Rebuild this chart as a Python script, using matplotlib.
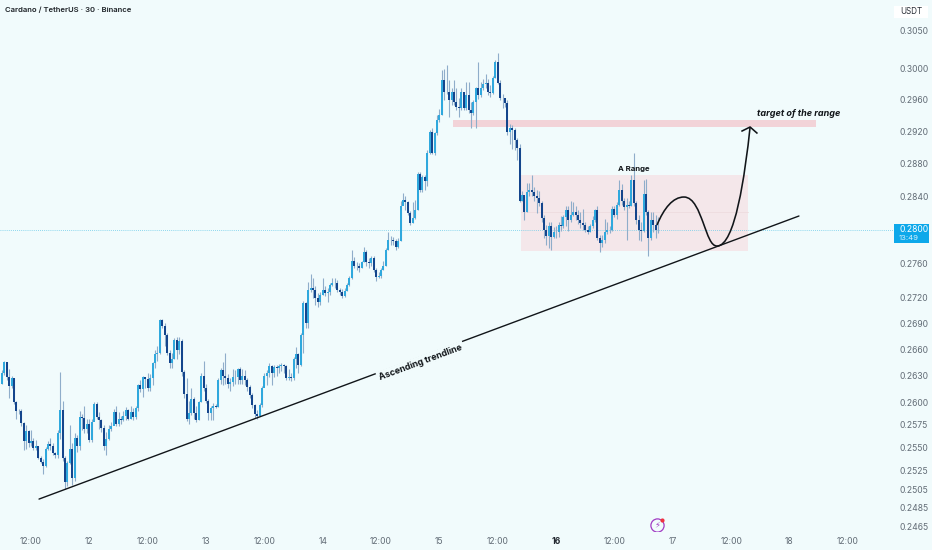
#coding=utf-8
import numpy as np
import matplotlib
matplotlib.use('Agg')
import matplotlib.pyplot as plt
from matplotlib.path import Path
from matplotlib.patches import PathPatch, Rectangle

plt.rcParams['font.family'] = ['Inter', 'DejaVu Sans']

first_open = 0.2621

# 30 min candles, bar 0 is 12:00 on the 11th
closes = [
    # 11th morning to 12th
    .2633, .2645, .2628, .2618, .2627, .2600, .2590, .2591, .2577, .2557,
    .2568, .2555, .2557, .2550, .2552, .2539, .2535, .2530, .2549, .2554,
    .2552, .2544, .2542, .2566, .2592, .2539, .2513, .2533, .2549, .2517,
    .2561, .2552, .2584, .2583, .2571, .2576, .2558, .2578, .2598, .2584,
    .2581, .2572, .2552, .2560, .2571, .2574, .2589, .2576, .2582, .2580,
    .2585, .2592, .2582,
    # first swing high and pullback
    .2589, .2584, .2594, .2619, .2615, .2628, .2626, .2616, .2627, .2644,
    .2655, .2656, .2693, .2687, .2676, .2656, .2644, .2649, .2671, .2659,
    .2669, .2634, .2609, .2582, .2588, .2604, .2588, .2580, .2600, .2630,
    .2616, .2602, .2588, .2594, .2596, .2595, .2625, .2636, .2630, .2627,
    .2621, .2623, .2628, .2629, .2638, .2625, .2630, .2625, .2617, .2608,
    .2597, .2587, .2585, .2597, .2616,
    # 13th night to 14th
    .2630, .2633, .2641, .2633, .2640, .2639, .2641, .2642, .2641, .2627,
    .2629, .2627, .2649, .2655, .2642, .2676, .2713, .2690, .2728, .2731,
    .2728, .2719, .2714, .2722, .2728, .2725, .2726, .2734, .2737, .2737,
    .2728, .2726, .2721, .2727, .2734, .2742, .2763, .2757, .2756, .2754,
    .2761, .2773, .2761, .2760, .2766, .2752, .2744, .2745, .2752, .2757,
    .2775, .2787, .2788, .2786, .2779, .2786, .2829,
    # run up to the top
    .2836, .2833, .2820, .2808, .2814, .2823, .2868, .2848, .2864, .2859,
    .2894, .2919, .2893, .2918, .2934, .2941, .2985, .2970, .2970,
    .2960, .2970, .2957, .2951, .2950, .2970, .2950, .2966, .2947,
    .2944, .2957, .2975, .2966, .2975, .2980, .2981, .2970, .2969, .2988,
    .3008, .2982, .2963, .2962, .2956, .2919, .2925, .2922, .2909, .2900,
    .2835,
    # the range
    .2842, .2821, .2845, .2848, .2845, .2840, .2838, .2832, .2814, .2799,
    .2792, .2804, .2791, .2797, .2797, .2805, .2804, .2815, .2823, .2811,
    .2818, .2821, .2817, .2811, .2808, .2805, .2799, .2797, .2804, .2812,
    .2823, .2790, .2784, .2787, .2797, .2800, .2799, .2825, .2817, .2830,
    .2848, .2835, .2827, .2830, .2829, .2860, .2832, .2811, .2799, .2798,
    .2843, .2821, .2790, .2811, .2806, .2799, .2800,
]
highs = [
    .2636, .2647, .2645, .2638, .2630, .2627, .2602, .2593, .2593, .2578,
    .2575, .2570, .2569, .2561, .2558, .2552, .2541, .2538, .2551, .2557,
    .2561, .2555, .2545, .2569, .2634, .2602, .2541, .2536, .2575, .2555,
    .2566, .2564, .2590, .2587, .2596, .2582, .2582, .2582, .2600, .2601,
    .2589, .2582, .2575, .2567, .2575, .2578, .2593, .2596, .2589, .2585,
    .2591, .2595, .2593,
    .2596, .2594, .2596, .2621, .2625, .2630, .2629, .2633, .2632, .2645,
    .2659, .2664, .2695, .2695, .2690, .2678, .2659, .2656, .2673, .2674,
    .2674, .2672, .2636, .2627, .2602, .2616, .2606, .2596, .2602, .2633,
    .2647, .2621, .2604, .2596, .2599, .2598, .2627, .2639, .2645, .2656,
    .2632, .2627, .2638, .2636, .2639, .2640, .2638, .2636, .2627, .2619,
    .2611, .2598, .2592, .2599, .2618,
    .2633, .2636, .2644, .2642, .2642, .2642, .2643, .2644, .2643, .2642,
    .2638, .2633, .2651, .2663, .2656, .2678, .2715, .2714, .2738, .2747,
    .2742, .2733, .2725, .2726, .2743, .2733, .2731, .2737, .2743, .2742,
    .2740, .2731, .2730, .2731, .2737, .2745, .2775, .2767, .2761, .2760,
    .2763, .2779, .2775, .2766, .2769, .2768, .2754, .2749, .2754, .2763,
    .2778, .2797, .2792, .2791, .2789, .2790, .2835,
    .2844, .2840, .2835, .2822, .2833, .2836, .2870, .2870, .2866, .2866,
    .2897, .2922, .2924, .2920, .2941, .2949, .2998, .3000, .3005,
    .2985, .2975, .2985, .2975, .2962, .2975, .2970, .2983, .2983,
    .2957, .2960, .2977, .3008, .2983, .2986, .2993, .2986, .2979, .2990,
    .3011, .3020, .2985, .2968, .2963, .2960, .2930, .2928, .2924, .2912,
    .2905,
    .2847, .2842, .2856, .2856, .2866, .2852, .2848, .2847, .2835, .2817,
    .2805, .2809, .2809, .2803, .2804, .2809, .2816, .2817, .2829, .2829,
    .2835, .2833, .2829, .2823, .2821, .2825, .2809, .2804, .2807, .2816,
    .2825, .2828, .2793, .2793, .2813, .2809, .2804, .2828, .2829, .2833,
    .2860, .2855, .2838, .2838, .2835, .2866, .2893, .2835, .2817, .2809,
    .2860, .2861, .2823, .2821, .2821, .2817, .2815,
]
lows = [
    .2621, .2631, .2625, .2605, .2616, .2598, .2582, .2587, .2574, .2547,
    .2549, .2551, .2552, .2548, .2547, .2538, .2533, .2521, .2529, .2548,
    .2547, .2542, .2539, .2539, .2560, .2536, .2505, .2509, .2532, .2510,
    .2514, .2545, .2547, .2569, .2566, .2566, .2556, .2556, .2580, .2582,
    .2571, .2567, .2547, .2542, .2558, .2568, .2575, .2574, .2574, .2576,
    .2579, .2580, .2580,
    .2582, .2580, .2582, .2591, .2612, .2606, .2616, .2613, .2613, .2619,
    .2639, .2647, .2655, .2684, .2664, .2653, .2639, .2639, .2649, .2649,
    .2655, .2630, .2605, .2579, .2576, .2586, .2582, .2578, .2580, .2600,
    .2613, .2599, .2580, .2580, .2580, .2594, .2595, .2621, .2619, .2621,
    .2616, .2613, .2618, .2621, .2621, .2621, .2621, .2619, .2613, .2605,
    .2594, .2583, .2582, .2585, .2595,
    .2619, .2619, .2629, .2619, .2629, .2630, .2633, .2635, .2633, .2625,
    .2625, .2624, .2625, .2639, .2633, .2641, .2656, .2684, .2684, .2726,
    .2719, .2711, .2708, .2711, .2722, .2721, .2714, .2722, .2733, .2731,
    .2726, .2723, .2719, .2720, .2727, .2733, .2741, .2754, .2752, .2750,
    .2754, .2761, .2757, .2754, .2756, .2749, .2739, .2742, .2743, .2752,
    .2756, .2775, .2782, .2781, .2775, .2778, .2786,
    .2831, .2823, .2817, .2805, .2808, .2813, .2823, .2845, .2845, .2848,
    .2853, .2892, .2892, .2891, .2916, .2932, .2941, .2960, .2968,
    .2939, .2954, .2954, .2947, .2939, .2947, .2947, .2947, .2944,
    .2925, .2941, .2925, .2961, .2964, .2973, .2975, .2966, .2964, .2968,
    .2988, .2980, .2960, .2950, .2951, .2916, .2905, .2898, .2897, .2885,
    .2833,
    .2835, .2811, .2821, .2840, .2840, .2835, .2820, .2829, .2809, .2790,
    .2781, .2778, .2775, .2790, .2790, .2791, .2798, .2802, .2804, .2798,
    .2809, .2816, .2811, .2807, .2802, .2799, .2797, .2795, .2797, .2802,
    .2809, .2787, .2773, .2779, .2784, .2795, .2796, .2798, .2815, .2813,
    .2829, .2830, .2823, .2788, .2826, .2828, .2829, .2807, .2787, .2786,
    .2797, .2817, .2768, .2787, .2797, .2790, .2796,
]

ytick_values = [.3050, .3000, .2960, .2920, .2880, .2840, .2760, .2720, .2690,
                .2660, .2630, .2600, .2575, .2550, .2525, .2505, .2485, .2465]
xtick_bars = list(range(0, 337, 24))
xtick_labels = ['12:00', '12', '12:00', '13', '12:00', '14', '12:00', '15',
                '12:00', '16', '12:00', '17', '12:00', '18', '12:00']

last_price = 0.2800

bg = '#F1FBFC'
up_col = '#2FA8DD'
down_col = '#14458C'
ink = '#111519'
grey = '#626C76'

closes = np.array(closes)
highs = np.array(highs)
lows = np.array(lows)
opens = np.r_[first_open, closes[:-1]]
bars = np.arange(len(closes)) - 12

fig = plt.figure(figsize=(9.32, 5.5), dpi=100, facecolor=bg)
ax = fig.add_axes([0, 19 / 550, 894 / 932, 531 / 550], facecolor=bg)
ax.set_yscale('log')
ax.set_xlim(-12.75, 355)
ax.set_ylim(0.24606, 0.30895)
for s in ax.spines.values():
    s.set_visible(False)

# drawn zones
ax.add_patch(Rectangle((201.6, .2774), 93.3, .2866 - .2774, fc='#F4E7EA', ec='none', zorder=1))
ax.plot([201.6, 294.9], [.2821, .2821], color='#EEDCDF', lw=0.6, zorder=1)
ax.add_patch(Rectangle((173.6, .2926), 149.3, .2934 - .2926, fc='#F2D3D8', ec='none', zorder=1))
ax.axhline(last_price, color='#6CCBE9', lw=0.6, ls=(0, (1, 1.5)), zorder=1)

# candles
ax.vlines(bars, lows, highs, color='#8FADCA', lw=0.8, zorder=2)
up = closes >= opens
body_lo = np.minimum(opens, closes)
body_hi = np.maximum(opens, closes)
ax.bar(bars[up], body_hi[up] - body_lo[up], bottom=body_lo[up], width=0.82, color=up_col, zorder=3)
ax.bar(bars[~up], body_hi[~up] - body_lo[~up], bottom=body_lo[~up], width=0.82, color=down_col, zorder=3)

# trendline
ax.plot([3.3, 315.9], [.24945, .28163], color=ink, lw=1.0, zorder=4, solid_capstyle='round')
ax.text(160.3, .2645, 'Ascending trendline', rotation=20.4, rotation_mode='anchor',
        ha='center', va='center', fontsize=6.4, fontweight='bold', color=ink, zorder=5,
        bbox=dict(fc=bg, ec='none', pad=1.5))

# projected path
verts = [(257.5, .28054), (260.4, .28259), (264.1, .28393), (268.6, .28393),
         (272.7, .28393), (274.8, .28211), (276.4, .28090),
         (278.5, .27922), (279.7, .27803), (282.2, .27803),
         (289.6, .27803), (293.7, .28662), (295.8, .29258)]
codes = [Path.MOVETO] + [Path.CURVE4] * 12
ax.add_patch(PathPatch(Path(verts, codes), fc='none', ec=ink, lw=1.15, zorder=6))
ax.plot([292.5, 295.8, 298.6], [.29208, .29258, .29183], color=ink, lw=1.15, zorder=6)

ax.text(248.1, .28736, 'A Range', ha='center', va='center', fontsize=5.6,
        fontweight='bold', color=ink, zorder=7)
ax.text(298.6, .29434, 'target of the range', ha='left', va='center', fontsize=6.5,
        fontweight='bold', fontstyle='italic', color=ink, zorder=7)

# axes labels
ax.yaxis.tick_right()
ax.set_yticks(ytick_values)
ax.set_yticklabels(['%.4f' % v for v in ytick_values])
ax.minorticks_off()
ax.tick_params(axis='y', length=0, pad=3.6, labelsize=6.2, labelcolor=grey)
ax.set_xticks(xtick_bars)
ax.set_xticklabels(xtick_labels)
ax.tick_params(axis='x', length=0, pad=4, labelsize=6.2, labelcolor=grey)
ax.get_xticklabels()[9].set_fontweight('bold')
ax.get_xticklabels()[9].set_color('#222830')

# header and right hand tags
fig.text(5 / 932, 1 - 10 / 550, 'Cardano / TetherUS · 30 · Binance', fontsize=5.55,
         fontweight='semibold', color='#1C2126', va='center')
fig.patches.append(Rectangle((894 / 932, 1 - 18 / 550), 34 / 932, 12 / 550, fc='white',
                             ec='none', transform=fig.transFigure))
fig.text(911 / 932, 1 - 11 / 550, 'USDT', fontsize=5.8, color='#2A3038', ha='center', va='center')
fig.patches.append(Rectangle((894 / 932, 1 - 243 / 550), 35 / 932, 19 / 550, fc='#0DA8EA',
                             ec='none', transform=fig.transFigure))
fig.text(899 / 932, 1 - 229 / 550, '%.4f' % last_price, fontsize=6.2, color='white', va='center')
fig.text(899 / 932, 1 - 238.5 / 550, '13:49', fontsize=5.6, color='#D5F1FC', va='center')

# flash icon near the bottom
ax.plot([257.7], [.24669], marker='o', ms=9.5, mfc='none', mec='#A13BC4', mew=0.9, zorder=5)
ax.text(257.7, .24669, '⚡', ha='center', va='center', fontsize=6, color='#A13BC4',
        family='DejaVu Sans', zorder=5)
ax.plot([259.6], [.24722], marker='o', ms=3, mfc='#EF3340', mec='none', zorder=6)

fig.savefig('out.png', dpi=100, facecolor=bg)
print(len(closes), len(highs), len(lows))
